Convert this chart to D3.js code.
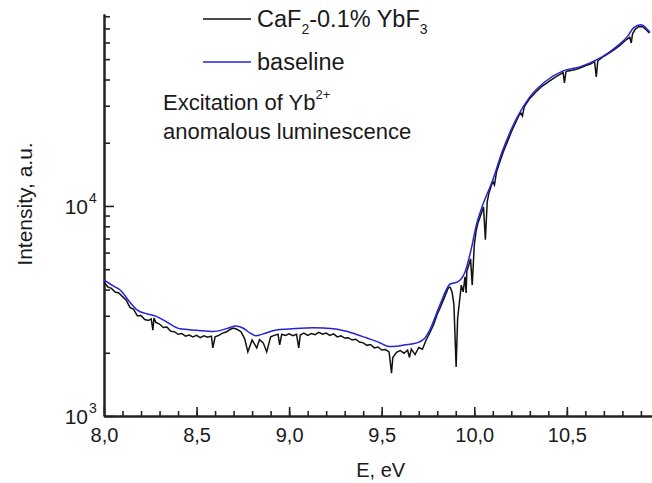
<!DOCTYPE html>
<html>
<head>
    <script src="https://cdnjs.cloudflare.com/ajax/libs/d3/7.8.5/d3.min.js"></script>
    <style>
        body { margin: 0; background: #fff; }
        text {
            font-family: "Liberation Sans", Arial, sans-serif;
            fill: #1a1a1a;
        }
        .axis path, .axis line {
            stroke: #222;
        }
        .axis path { stroke-width: 2px; }
        .axis line { stroke-width: 1.6px; }
        .sample { fill: none; stroke: #111; stroke-width: 1.5px; }
        .base { fill: none; stroke: #2323d8; stroke-width: 1.5px; }
    </style>
</head>
<body>
    <div id="chart"></div>
    <script>
        const width = 652, height = 483;

        // smooth baseline drawn under the spectrum, [E (eV), intensity]
        const baseline = [
            [8.00, 4450], [8.05, 4160], [8.09, 3960], [8.14, 3480], [8.18, 3190],
            [8.23, 3070], [8.28, 2990], [8.34, 2800], [8.41, 2600], [8.50, 2560],
            [8.59, 2525], [8.64, 2570], [8.68, 2640], [8.71, 2680], [8.75, 2625],
            [8.79, 2480], [8.82, 2410], [8.86, 2460], [8.93, 2570], [9.00, 2594],
            [9.13, 2632], [9.24, 2600], [9.34, 2485], [9.42, 2350], [9.49, 2233],
            [9.54, 2140], [9.58, 2150], [9.62, 2178], [9.69, 2229], [9.73, 2330],
            [9.76, 2570], [9.81, 3300], [9.87, 4250], [9.91, 4350], [9.95, 4850],
            [9.985, 6310], [10.01, 8035], [10.04, 9778], [10.10, 13300], [10.15, 18070],
            [10.23, 26240], [10.30, 33040], [10.38, 38900], [10.48, 43950], [10.57, 45920],
            [10.66, 49550], [10.73, 54000], [10.78, 58430], [10.83, 64500], [10.86, 70470],
            [10.90, 72800], [10.93, 70000], [10.95, 67000]
        ];

        // measured spectrum CaF2-0.1% YbF3, [E (eV), intensity]
        const spectrum = [
            [8.00, 4330], [8.02, 4120], [8.04, 4050], [8.06, 3890], [8.08, 3850],
            [8.10, 3700], [8.12, 3560], [8.14, 3290], [8.16, 3220], [8.18, 3000],
            [8.20, 3010], [8.22, 2880], [8.24, 2850], [8.255, 2900], [8.264, 2560],
            [8.27, 2930], [8.28, 2790], [8.30, 2740], [8.32, 2640], [8.34, 2650],
            [8.36, 2530], [8.38, 2520], [8.40, 2450], [8.42, 2470], [8.44, 2400],
            [8.46, 2430], [8.48, 2380], [8.50, 2420], [8.52, 2360], [8.54, 2410],
            [8.56, 2370], [8.58, 2400], [8.588, 2110], [8.60, 2380], [8.62, 2420],
            [8.64, 2480], [8.66, 2510], [8.68, 2580], [8.70, 2620], [8.72, 2580],
            [8.74, 2520], [8.76, 2330], [8.777, 2020], [8.80, 2300], [8.825, 2110],
            [8.84, 2310], [8.86, 2230], [8.879, 2020], [8.90, 2380], [8.92, 2420],
            [8.94, 2450], [8.949, 2180], [8.96, 2450], [8.98, 2420], [9.00, 2460],
            [9.02, 2410], [9.04, 2450], [9.052, 2110], [9.06, 2430], [9.08, 2480],
            [9.10, 2420], [9.12, 2470], [9.14, 2440], [9.16, 2500], [9.18, 2450],
            [9.20, 2480], [9.22, 2420], [9.24, 2460], [9.26, 2380], [9.28, 2410],
            [9.30, 2350], [9.32, 2360], [9.34, 2300], [9.36, 2320], [9.38, 2250],
            [9.40, 2230], [9.42, 2170], [9.44, 2190], [9.46, 2110], [9.48, 2130],
            [9.50, 2060], [9.52, 2070], [9.54, 2020], [9.553, 1600], [9.56, 1900],
            [9.58, 2010], [9.60, 2050], [9.62, 1990], [9.64, 2060], [9.65, 1900],
            [9.66, 2080], [9.68, 1960], [9.70, 2120], [9.72, 2080], [9.74, 2300],
            [9.76, 2490], [9.78, 2720], [9.80, 3050], [9.82, 3340], [9.84, 3690],
            [9.86, 4080], [9.87, 4100], [9.88, 3900], [9.89, 3400], [9.902, 1710],
            [9.91, 2900], [9.92, 3500], [9.93, 4200], [9.94, 3900], [9.95, 4600],
            [9.956, 3850], [9.96, 4900], [9.97, 5200], [9.98, 5600], [9.989, 4200],
            [10.00, 6500], [10.01, 7600], [10.02, 8300], [10.04, 9300], [10.05, 9900],
            [10.06, 6900], [10.07, 10500], [10.08, 11600], [10.10, 13100], [10.109, 12600],
            [10.12, 14500], [10.14, 16400], [10.16, 18400], [10.18, 20300], [10.20, 22500],
            [10.22, 24600], [10.24, 26800], [10.25, 27900], [10.26, 26800], [10.27, 29600],
            [10.28, 30600], [10.30, 32500], [10.33, 34700], [10.36, 36800], [10.40, 39000],
            [10.44, 41200], [10.47, 42700], [10.48, 43200], [10.487, 38500], [10.495, 43400],
            [10.50, 43800], [10.53, 44300], [10.56, 45000], [10.60, 46500], [10.63, 47500],
            [10.65, 48600], [10.659, 41100], [10.667, 48800], [10.67, 49300], [10.70, 51600],
            [10.73, 53600], [10.76, 55800], [10.79, 58400], [10.82, 61800], [10.84, 63500],
            [10.848, 59700], [10.855, 66000], [10.87, 69500], [10.89, 71500], [10.91, 71300],
            [10.93, 68800], [10.945, 66500]
        ];

        const xMajor = [8.0, 8.5, 9.0, 9.5, 10.0, 10.5];
        const xMinor = d3.range(81, 110).map(d => d / 10);
        const yMajor = [1000, 10000];
        const yMinor = [2000, 3000, 4000, 5000, 6000, 7000, 8000, 9000,
                        20000, 30000, 40000, 50000, 60000, 70000, 80000];

        const x = d3.scaleLinear().domain([8.0, 10.96]).range([104, 652]);
        const y = d3.scaleLog().domain([1000, 82000]).range([416, 14]);

        const svg = d3.select("#chart").append("svg")
            .attr("width", width).attr("height", height);

        // axes, ticks pointing inward
        svg.append("g").attr("class", "axis")
            .attr("transform", "translate(0,416)")
            .call(d3.axisBottom(x).tickValues(xMinor).tickSize(-5).tickSizeOuter(0).tickFormat(""));
        svg.append("g").attr("class", "axis xmaj")
            .attr("transform", "translate(0,416)")
            .call(d3.axisBottom(x).tickValues(xMajor).tickSize(-9).tickSizeOuter(0).tickPadding(12)
                .tickFormat(d => d.toFixed(1).replace(".", ",")))
            .call(g => g.selectAll("text").style("font-size", "20px").attr("fill", "#1a1a1a"));

        svg.append("g").attr("class", "axis")
            .attr("transform", "translate(104,0)")
            .call(d3.axisLeft(y).tickValues(yMinor).tickSize(-6).tickSizeOuter(0).tickFormat(""));
        svg.append("g").attr("class", "axis")
            .attr("transform", "translate(104,0)")
            .call(d3.axisLeft(y).tickValues(yMajor).tickSize(-10).tickSizeOuter(0).tickFormat(""));

        // y tick labels 10^n
        yMajor.forEach(v => {
            svg.append("text")
                .attr("x", 88).attr("y", y(v) + 8)
                .attr("text-anchor", "end")
                .style("font-size", "21px")
                .text("10");
            svg.append("text")
                .attr("x", 89).attr("y", y(v) - 3)
                .style("font-size", "14px")
                .text(Math.round(Math.log10(v)));
        });

        // axis titles
        svg.append("text")
            .attr("x", x(9.5) - 1).attr("y", 477)
            .attr("text-anchor", "middle")
            .style("font-size", "20px")
            .text("E, eV");
        svg.append("text")
            .attr("transform", "translate(32,204) rotate(-90)")
            .attr("text-anchor", "middle")
            .style("font-size", "21px")
            .text("Intensity, a.u.");

        const line = d3.line().x(d => x(d[0])).y(d => y(d[1]));

        svg.append("path").datum(spectrum)
            .attr("class", "sample")
            .attr("d", line);
        svg.append("path").datum(baseline)
            .attr("class", "base")
            .attr("d", line.curve(d3.curveMonotoneX));

        // legend
        svg.append("line").attr("x1", 203).attr("x2", 251).attr("y1", 19).attr("y2", 19)
            .attr("stroke", "#111").attr("stroke-width", 1.4);
        const l1 = svg.append("text").attr("x", 257).attr("y", 27).style("font-size", "23.5px");
        l1.append("tspan").text("CaF");
        l1.append("tspan").attr("dy", 7).style("font-size", "14px").text("2");
        l1.append("tspan").attr("dy", -7).text("-0.1% YbF");
        l1.append("tspan").attr("dy", 7).style("font-size", "14px").text("3");

        svg.append("line").attr("x1", 203).attr("x2", 251).attr("y1", 62).attr("y2", 62)
            .attr("stroke", "#2323d8").attr("stroke-width", 1.5);
        svg.append("text").attr("x", 257).attr("y", 70).style("font-size", "23.5px").text("baseline");

        const n1 = svg.append("text").attr("x", 163).attr("y", 110).style("font-size", "22px");
        n1.append("tspan").text("Excitation of Yb");
        n1.append("tspan").attr("dy", -11).style("font-size", "13px").text("2+");
        svg.append("text").attr("x", 163).attr("y", 139).style("font-size", "22px")
            .text("anomalous luminescence");
    </script>
</body>
</html>
